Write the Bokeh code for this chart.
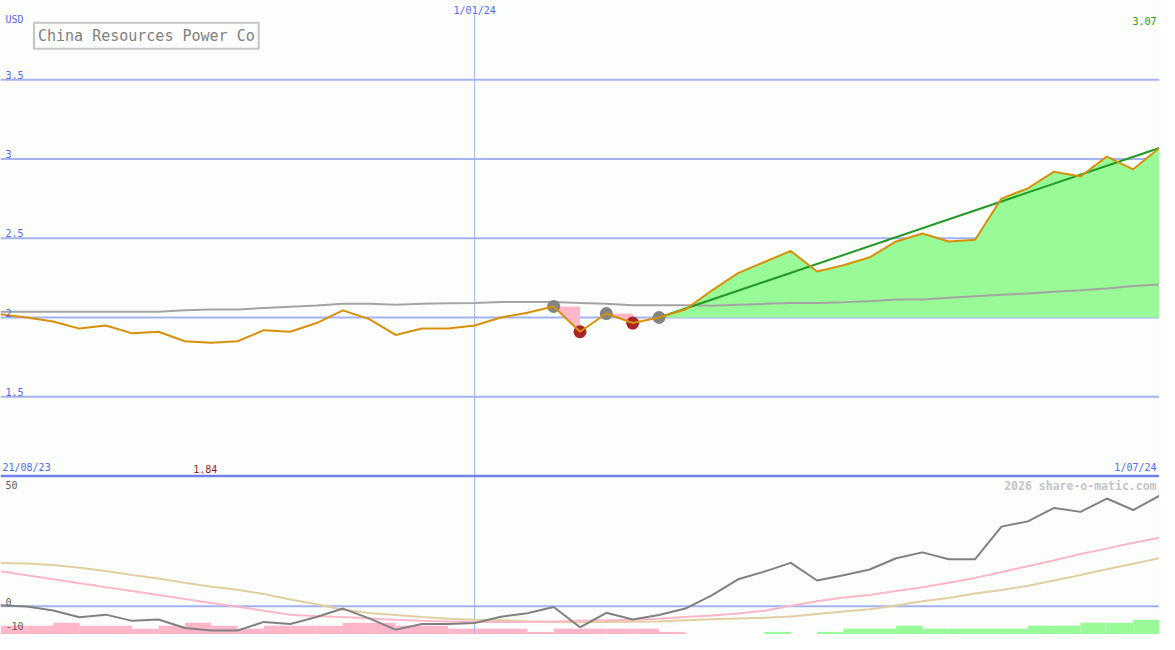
from bokeh.plotting import figure
from bokeh.models import Range1d, Label, ColumnDataSource
from bokeh.core.properties import value
from bokeh.embed import file_html
from bokeh.resources import INLINE

# ---------------- data ----------------
company = "China Resources Power Co"
currency = "USD"
start_label = "21/08/23"
mid_label = "1/01/24"
end_label = "1/07/24"
mid_index = 18
watermark = "2026 share-o-matic.com"

# weekly closing price (USD)
price = [2.02, 2.00, 1.975, 1.93, 1.95, 1.90, 1.91, 1.85, 1.84, 1.85,
         1.92, 1.91, 1.965, 2.045, 1.99, 1.89, 1.93, 1.93, 1.95, 2.00,
         2.03, 2.07, 1.91, 2.025, 1.965, 2.00, 2.05, 2.17, 2.28, 2.35,
         2.42, 2.29, 2.33, 2.38, 2.48, 2.53, 2.48, 2.49, 2.75, 2.815,
         2.92, 2.89, 3.015, 2.935, 3.07]

# long moving average (grey line, top panel)
ma_long = [2.037, 2.037, 2.037, 2.037, 2.037, 2.037, 2.037, 2.045, 2.051, 2.051,
           2.060, 2.068, 2.076, 2.086, 2.086, 2.080, 2.086, 2.090, 2.092, 2.098,
           2.098, 2.098, 2.092, 2.086, 2.078, 2.078, 2.078, 2.074, 2.080, 2.086,
           2.092, 2.092, 2.097, 2.103, 2.113, 2.113, 2.125, 2.134, 2.143, 2.152,
           2.162, 2.172, 2.183, 2.199, 2.209]

# drawdown segments (start index, end index) and start of up-trend
dd_start = [21, 23]
dd_end = [22, 24]
trend_start = 25

# bottom panel: oscillator (%) and its two averages
osc = [0.4, -0.1, -1.8, -4.7, -3.6, -6.25, -5.7, -9.3, -10.4, -10.4,
       -6.7, -7.6, -4.6, -1.0, -5.2, -10.0, -7.6, -7.6, -7.2, -4.5,
       -3.0, -0.3, -9.0, -2.8, -5.7, -3.75, -1.0, 4.6, 11.5, 14.8,
       18.5, 11.0, 13.2, 15.7, 20.5, 23.0, 20.1, 20.1, 34.0, 36.25,
       42.0, 40.3, 46.0, 41.1, 47.2]
osc_fast = [14.9, 13.2, 11.5, 9.8, 8.1, 6.5, 4.8, 3.1, 1.4, -0.2,
            -1.9, -3.6, -4.25, -4.6, -5.2, -5.8, -6.2, -6.5, -6.7, -6.75,
            -6.7, -6.5, -6.25, -6.0, -5.8, -5.4, -4.6, -4.0, -3.1, -1.9,
            0.2, 2.1, 3.75, 4.8, 6.5, 8.1, 10.0, 12.1, 14.6, 17.1,
            19.6, 22.3, 24.6, 27.1, 29.3]
osc_slow = [18.5, 18.2, 17.6, 16.4, 15.0, 13.3, 11.8, 10.0, 8.3, 7.0,
            5.2, 2.9, 0.8, -1.5, -2.9, -3.75, -4.6, -5.4, -5.75, -6.0,
            -6.4, -6.7, -6.8, -6.75, -6.6, -6.5, -6.0, -5.6, -5.2, -4.9,
            -4.4, -3.3, -2.3, -1.3, 0.3, 2.1, 3.5, 5.4, 6.9, 8.75,
            11.0, 13.3, 15.8, 18.1, 20.5]

# weekly trend bars (negative = down / pink, positive = up / green)
bars = [-3.75, -3.75, -5, -3.75, -3.75, -2.5, -3.75, -5, -3.75, -2.5,
        -3.75, -3.75, -3.75, -5, -5, -3.75, -3.75, -2.5, -2.5, -2.5,
        -1.1, -2.5, -2.5, -2.5, -2.5, -1.1, 0, 0, 0, 1.1,
        0, 1.1, 2.5, 2.5, 3.75, 2.5, 2.5, 2.5, 2.5, 3.75,
        3.75, 5, 5, 6.25]

price_ticks = [1.5, 2, 2.5, 3, 3.5]
price_tick_labels = ["1.5", "2", "2.5", "3", "3.5"]
osc_ticks = [-10, 0, 50]
osc_tick_labels = ["-10", "0", "50"]

# ---------------- figure ----------------
n = len(price)
idx = list(range(n))
W, H = 1159, 634
BG = "#fcfefc"
GRID = "#a4b2f2"
BLUE_TXT = "#5068f6"
FONT = value("DejaVu Sans Mono")

p = figure(width=W, height=H, x_range=Range1d(0, n - 1), y_range=Range1d(0.0, 4.0),
           output_backend="svg", toolbar_location=None,
           x_axis_location=None, y_axis_location=None,
           min_border=0, background_fill_color=BG, border_fill_color=BG,
           outline_line_color=None)
p.grid.visible = False
p.extra_y_ranges = {"osc": Range1d(-12.08, 258.75)}
osc_floor = -12.08

# bottom panel bars
bl = [k for k in range(len(bars)) if bars[k] != 0]
p.quad(left=bl, right=[k + 1 for k in bl],
       bottom=[osc_floor] * len(bl), top=[osc_floor + abs(bars[k]) for k in bl],
       fill_color=["#98fb98" if bars[k] > 0 else "#ffb6c8" for k in bl],
       line_color=None, y_range_name="osc")

# grid lines
p.segment(x0=[0] * len(price_ticks), x1=[n - 1] * len(price_ticks),
          y0=price_ticks, y1=price_ticks, line_color=GRID, line_width=2)
p.segment(x0=[0], x1=[n - 1], y0=[0], y1=[0], line_color=GRID, line_width=2,
          y_range_name="osc")
p.segment(x0=[mid_index], x1=[mid_index], y0=[0.0], y1=[3.91],
          line_color=GRID, line_width=1)

# green up-trend fill
tx = idx[trend_start:]
base = price[trend_start]
p.varea(x=tx, y1=[base] * len(tx), y2=price[trend_start:], fill_color="#98fb98")

# pink drawdown fills
p.patches(xs=[[s, e, e] for s, e in zip(dd_start, dd_end)],
          ys=[[price[s], price[s], price[e]] for s, e in zip(dd_start, dd_end)],
          fill_color="#ffb6c8", line_color=None)

# separator
p.segment(x0=[0], x1=[n - 1], y0=[1.0], y1=[1.0], line_color="#7282ea", line_width=2.5)

# bottom panel lines
p.line(idx, osc_slow, line_color="#e2cea0", line_width=2, y_range_name="osc")
p.line(idx, osc_fast, line_color="#ffb6c8", line_width=2, y_range_name="osc")
p.line(idx, osc, line_color="#808080", line_width=2, y_range_name="osc")

# long moving average
p.line(idx, ma_long, line_color="#a4a4a4", line_width=2)

# markers
gi = dd_start + [trend_start]
p.scatter(gi, [price[i] for i in gi], size=13, fill_color="#848484", line_color=None)
p.scatter(dd_end, [price[i] for i in dd_end], size=13, fill_color="#a82424", line_color=None)

# trend line and price line
p.line([trend_start, n - 1], [price[trend_start], price[-1]], line_color="#229922", line_width=2)
p.line(idx, price, line_color="#d8900a", line_width=2)

# ---------------- texts ----------------
p.text(x=[0] * len(price_ticks), y=price_ticks, text=price_tick_labels,
       x_offset=5, y_offset=-1, text_font=FONT, text_font_size="10px",
       text_color=BLUE_TXT, text_baseline="bottom", text_align="left")
p.text(x=[0] * len(osc_ticks), y=osc_ticks, text=osc_tick_labels,
       x_offset=5, y_offset=0, text_font=FONT, text_font_size="10px",
       text_color="#606060", text_baseline="bottom", text_align="left",
       y_range_name="osc")
p.text(x=[0], y=[3.846], text=[currency], x_offset=5, text_font=FONT,
       text_font_size="10px", text_color=BLUE_TXT, text_baseline="bottom")
p.text(x=[mid_index], y=[4.0], text=[mid_label], y_offset=4, text_font=FONT,
       text_font_size="10px", text_color=BLUE_TXT, text_baseline="top", text_align="center")
p.text(x=[n - 1], y=[3.846], text=["%.2f" % price[-1]], x_offset=-3, text_font=FONT,
       text_font_size="10px", text_color="#229922", text_baseline="bottom", text_align="right")
p.text(x=[0], y=[1.0], text=[start_label], x_offset=2, y_offset=-3, text_font=FONT,
       text_font_size="10px", text_color=BLUE_TXT, text_baseline="bottom", text_align="left")
p.text(x=[n - 1], y=[1.0], text=[end_label], x_offset=-3, y_offset=-3, text_font=FONT,
       text_font_size="10px", text_color=BLUE_TXT, text_baseline="bottom", text_align="right")
imin = price.index(min(price))
p.text(x=[imin], y=[1.0], text=["%.2f" % price[imin]], x_offset=-6, y_offset=-3, text_font=FONT,
       text_font_size="10px", text_color="#a01818", text_baseline="bottom", text_align="center")
p.text(x=[n - 1], y=[1.0], text=[watermark], x_offset=-3, y_offset=3, text_font=FONT,
       text_font_size="11.5px", text_font_style="bold", text_color="#c4c4c4",
       text_baseline="top", text_align="right")

title = Label(x=1.27, y=3.778, text=company, text_font="DejaVu Sans Mono",
              text_font_size="15px", text_color="#808080", text_baseline="middle",
              text_align="left", border_line_color="#c4c4c4", border_line_width=2,
              background_fill_color=BG, padding=4)
p.add_layout(title)

open("out.html", "w").write(file_html(p, INLINE))
